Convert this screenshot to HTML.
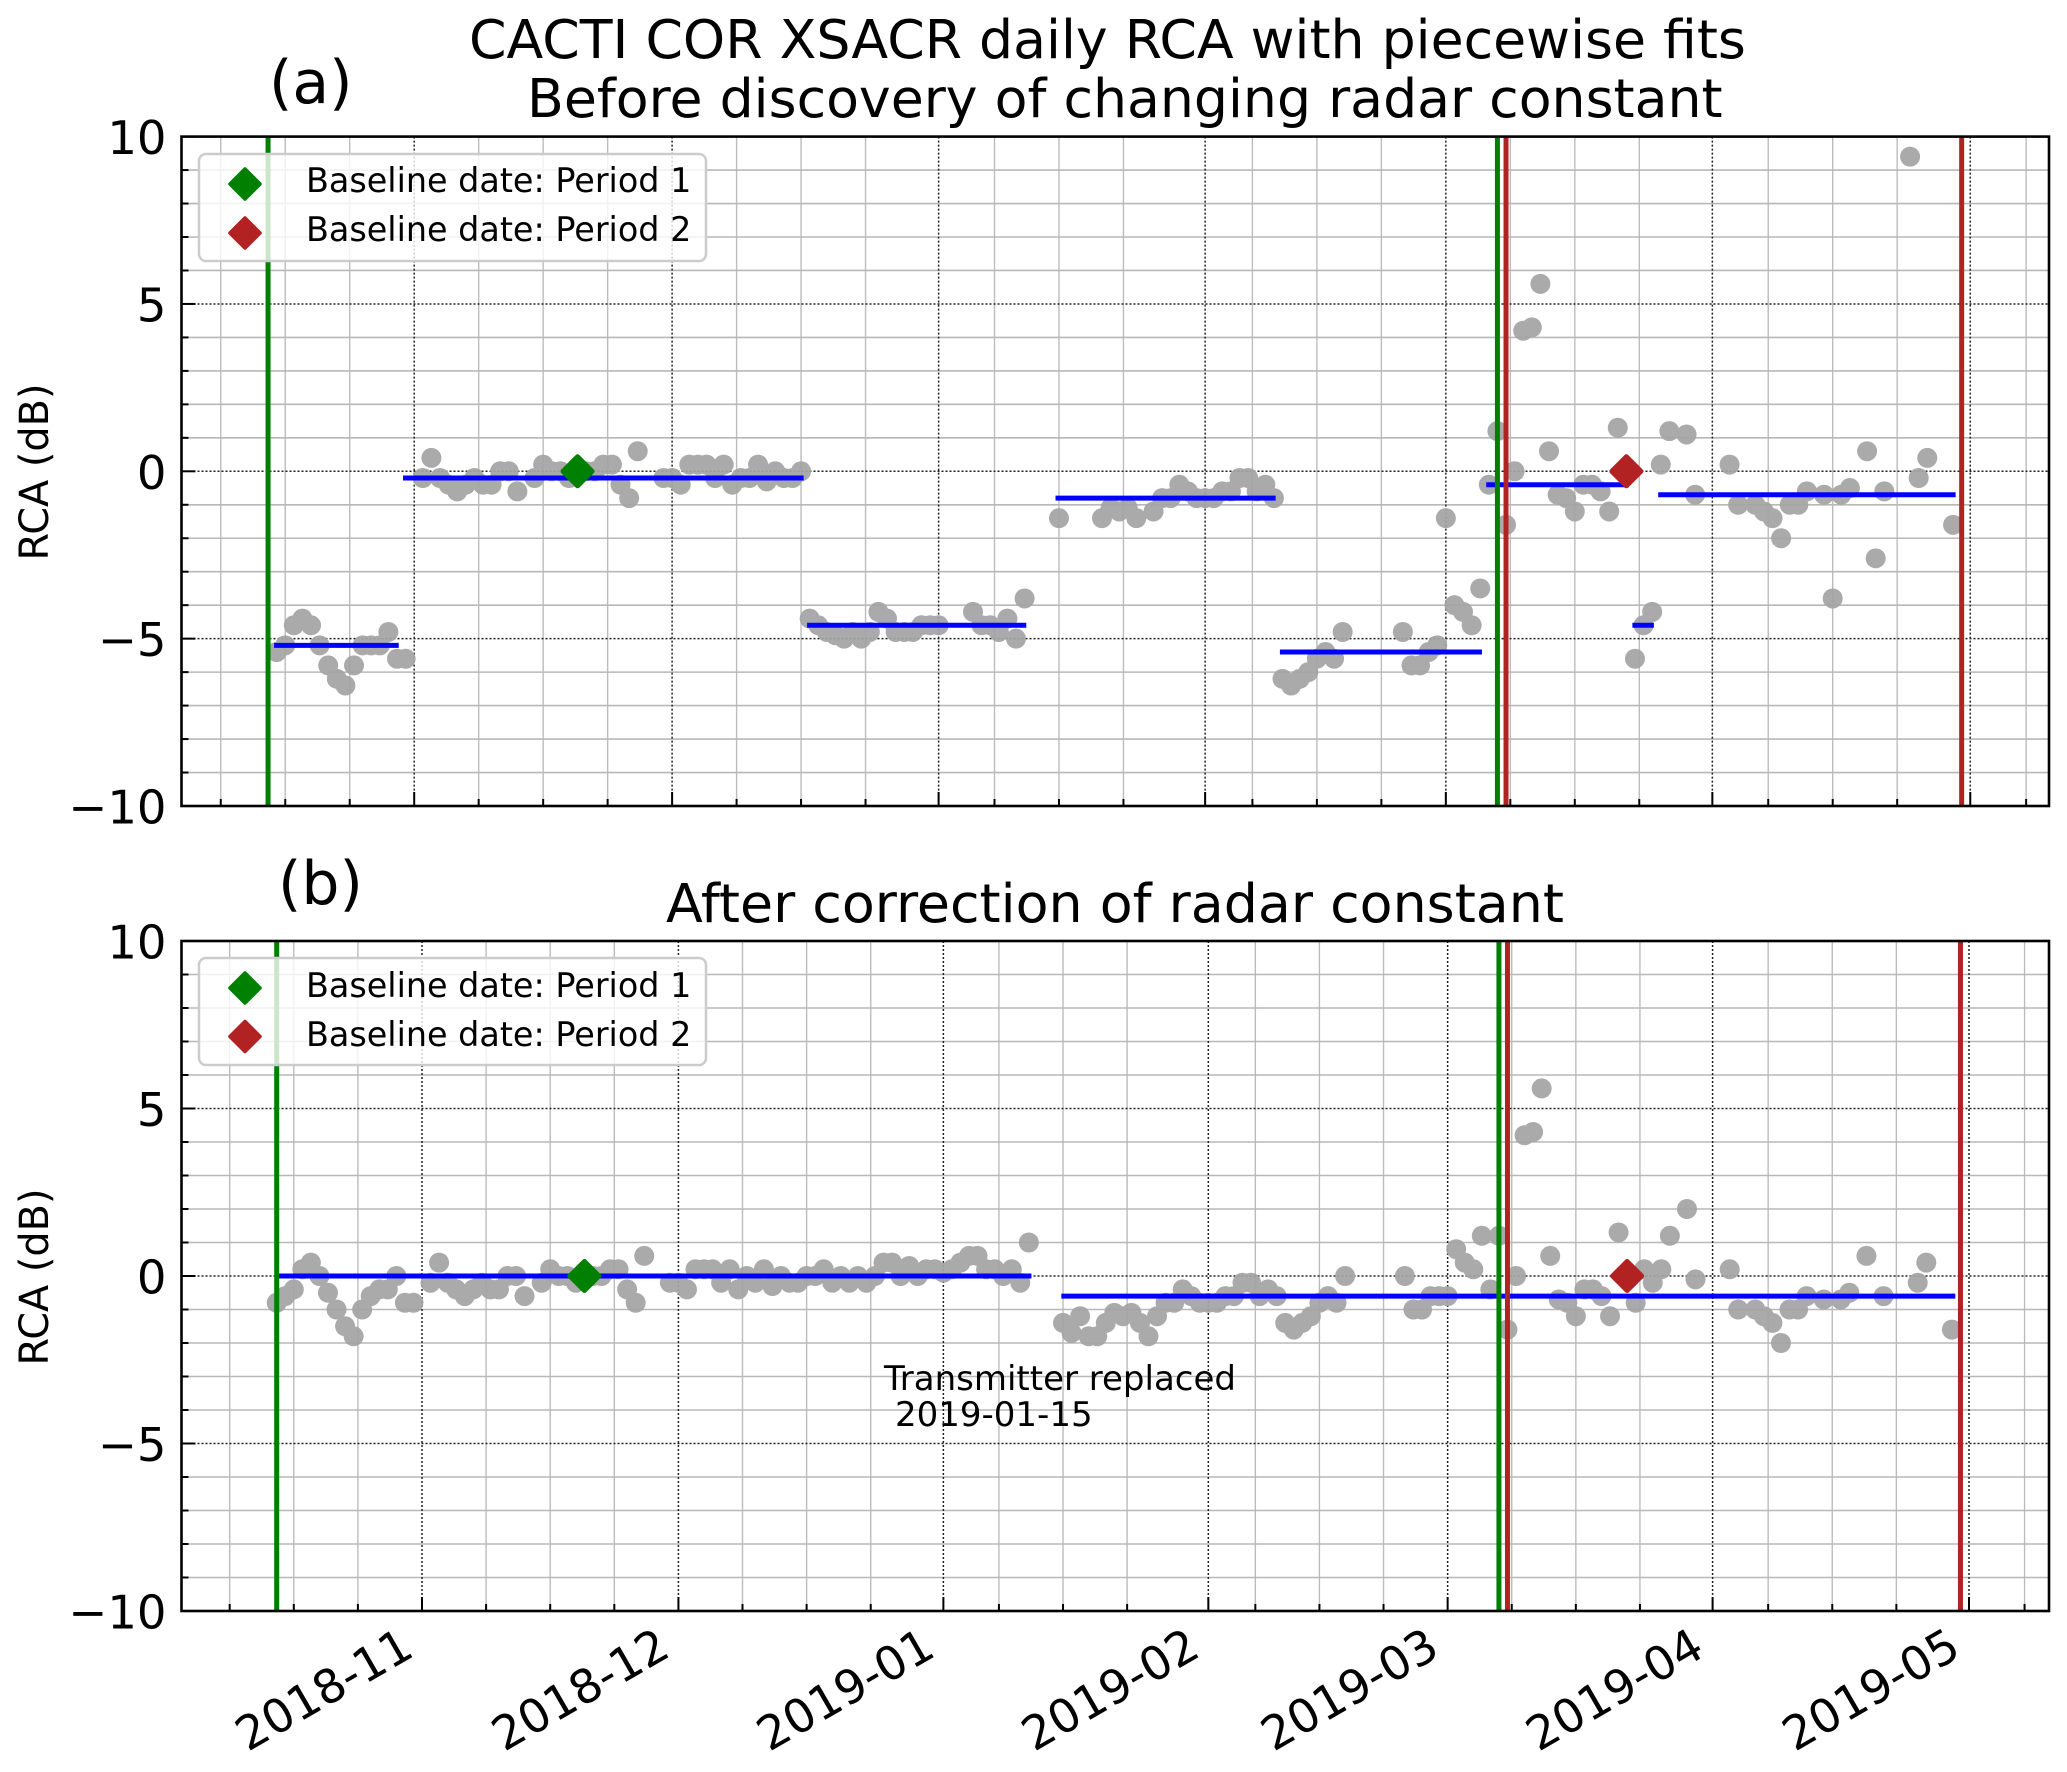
<!DOCTYPE html>
<html lang="en">
<head>
<meta charset="utf-8">
<title>CACTI COR XSACR daily RCA</title>
<style>
html,body{margin:0;padding:0;background:#fff;width:2067px;height:1772px;overflow:hidden}
svg{display:block}
text{font-family:"DejaVu Sans","Liberation Sans",sans-serif;fill:#000}
</style>
</head>
<body>
<svg id="figure" xmlns="http://www.w3.org/2000/svg" width="2067" height="1772" viewBox="0 0 2067 1772">
  <rect x="0" y="0" width="2067" height="1772" fill="#fff"/>
  <g id="panel-a"></g>
  <g id="panel-b"></g>

  <text x="469" y="58" font-size="53.7">CACTI COR XSACR daily RCA with piecewise fits</text>
  <text x="527" y="117" font-size="53.7">Before discovery of changing radar constant</text>
  <text x="269" y="103" font-size="60">(a)</text>
  <text x="278" y="904" font-size="60">(b)</text>
  <text x="666" y="922" font-size="53.8">After correction of radar constant</text>

  <text transform="translate(48,472) rotate(-90)" text-anchor="middle" font-size="39.8">RCA (dB)</text>
  <text transform="translate(48,1277) rotate(-90)" text-anchor="middle" font-size="39.8">RCA (dB)</text>

  <g>
    <rect x="199" y="154" width="507" height="107" rx="7" ry="7" fill="#fff" fill-opacity="0.8" stroke="#cccccc" stroke-width="2.5"/>
    <path d="M245 169L260 184L245 199L230 184Z" fill="#008000" stroke="#008000" stroke-width="3.6" stroke-linejoin="round"/>
    <path d="M245 218L260 233L245 248L230 233Z" fill="#b22222" stroke="#b22222" stroke-width="3.6" stroke-linejoin="round"/>
    <text x="306" y="192" font-size="33.4">Baseline date: Period 1</text>
    <text x="306" y="241" font-size="33.4">Baseline date: Period 2</text>
  </g>
  <g>
    <rect x="199" y="958" width="507" height="107" rx="7" ry="7" fill="#fff" fill-opacity="0.8" stroke="#cccccc" stroke-width="2.5"/>
    <path d="M245 973L260 988L245 1003L230 988Z" fill="#008000" stroke="#008000" stroke-width="3.6" stroke-linejoin="round"/>
    <path d="M245 1021.500L260 1036.500L245 1051.500L230 1036.500Z" fill="#b22222" stroke="#b22222" stroke-width="3.6" stroke-linejoin="round"/>
    <text x="306" y="997" font-size="33.4">Baseline date: Period 1</text>
    <text x="306" y="1046" font-size="33.4">Baseline date: Period 2</text>
  </g>

  <text x="884" y="1390" font-size="34">Transmitter replaced</text>
  <text x="895" y="1426" font-size="34">2019-01-15</text>
</svg>

<script>
// All day values are days since 2018-11-01.
const monthTickDays = [0, 30, 61, 92, 120, 151, 181];
const monthTickLabels = ['2018-11', '2018-12', '2019-01', '2019-02', '2019-03', '2019-04', '2019-05'];
const minorTickDays = [-22.5, -15, -7.5, 7.5, 15, 22.5, 37.5, 45, 52.5, 67.5, 75, 82.5, 97.5, 105, 112.5, 127.5, 135, 142.5, 157.5, 165, 172.5, 187.5];
const yMajorTicks = [-10, -5, 0, 5, 10];
const yMajorLabels = ['\u221210', '\u22125', '0', '5', '10'];
const yMinorTicks = [-9, -8, -7, -6, -4, -3, -2, -1, 1, 2, 3, 4, 6, 7, 8, 9];

const aDays = [-16,-15,-14,-13,-12,-11,-10,-9,-8,-7,-6,-5,-4,-3,-2,-1,
  1,2,3,4,5,6,7,8,9,10,11,12,14,15,16,17,18,19,20,21,22,23,24,25,26,29,30,31,32,33,34,35,36,37,38,39,40,41,42,43,44,45,
  46,47,48,49,50,51,52,53,54,55,56,57,58,59,60,61,65,66,67,68,69,70,71,
  75,80,81,82,83,84,86,87,88,89,90,91,92,93,94,95,96,97,98,99,100,
  101,102,103,104,105,106,107,108,115,116,117,118,119,120,121,122,123,124,125,126,127,128,129,130,131,132,133,134,135,136,137,138,139,140,141,142,143,144,145,146,148,149,
  153,154,156,157,158,159,160,161,162,164,165,166,167,169,170,171,174,175,176,179];
const aValues = [-5.4,-5.2,-4.6,-4.4,-4.6,-5.2,-5.8,-6.2,-6.4,-5.8,-5.2,-5.2,-5.2,-4.8,-5.6,-5.6,
  -0.2,0.4,-0.2,-0.4,-0.6,-0.4,-0.2,-0.4,-0.4,0,0,-0.6,-0.2,0.2,0,0,-0.2,0,0,0,0.2,0.2,-0.4,-0.8,0.6,-0.2,-0.2,-0.4,0.2,0.2,0.2,-0.2,0.2,-0.4,-0.2,-0.2,0.2,-0.3,0,-0.2,-0.2,0,
  -4.4,-4.6,-4.8,-4.9,-5,-4.8,-5,-4.8,-4.2,-4.4,-4.8,-4.8,-4.8,-4.6,-4.6,-4.6,-4.2,-4.6,-4.6,-4.8,-4.4,-5,-3.8,
  -1.4,-1.4,-1.1,-1.2,-1.1,-1.4,-1.2,-0.8,-0.8,-0.4,-0.6,-0.8,-0.8,-0.8,-0.6,-0.6,-0.2,-0.2,-0.6,-0.4,-0.8,
  -6.2,-6.4,-6.2,-6,-5.6,-5.4,-5.6,-4.8,-4.8,-5.8,-5.8,-5.4,-5.2,-1.4,-4,-4.2,-4.6,-3.5,-0.4,1.2,-1.6,0,4.2,4.3,5.6,0.6,-0.7,-0.8,-1.2,-0.4,-0.4,-0.6,-1.2,1.3,0,-5.6,-4.6,-4.2,0.2,1.2,1.1,-0.7,
  0.2,-1,-1,-1.2,-1.4,-2,-1,-1,-0.6,-0.7,-3.8,-0.7,-0.5,0.6,-2.6,-0.6,9.4,-0.2,0.4,-1.6];

const bDays = [-17,-16,-15,-14,-13,-12,-11,-10,-9,-8,-7,-6,-5,-4,-3,-2,-1,
  1,2,3,4,5,6,7,8,9,10,11,12,14,15,16,17,18,19,20,21,22,23,24,25,26,29,30,31,32,33,34,35,36,37,38,39,40,41,
  42,43,44,45,46,47,48,49,50,51,52,53,54,55,56,57,58,59,60,61,62,63,64,65,66,67,68,69,70,71,
  75,76,77,78,79,80,81,82,83,84,85,86,87,88,89,90,91,92,93,94,95,96,97,98,99,100,
  101,102,103,104,105,106,107,108,115,116,117,118,119,120,121,122,123,124,125,126,127,128,129,130,131,132,133,134,135,136,137,138,139,140,141,142,143,144,145,146,148,149,
  153,154,156,157,158,159,160,161,162,164,166,167,169,171,175,176,179];
const bValues = [-0.8,-0.6,-0.4,0.2,0.4,0,-0.5,-1,-1.5,-1.8,-1,-0.6,-0.4,-0.4,0,-0.8,-0.8,
  -0.2,0.4,-0.2,-0.4,-0.6,-0.4,-0.2,-0.4,-0.4,0,0,-0.6,-0.2,0.2,0,0,-0.2,0,0,0,0.2,0.2,-0.4,-0.8,0.6,-0.2,-0.2,-0.4,0.2,0.2,0.2,-0.2,0.2,-0.4,0,-0.2,0.2,-0.3,
  0,-0.2,-0.2,0,0,0.2,-0.2,0,-0.2,0,-0.2,0,0.4,0.4,0,0.3,0,0.2,0.2,0.1,0.2,0.4,0.6,0.6,0.2,0.2,0,0.2,-0.2,1,
  -1.4,-1.7,-1.2,-1.8,-1.8,-1.4,-1.1,-1.2,-1.1,-1.4,-1.8,-1.2,-0.8,-0.8,-0.4,-0.6,-0.8,-0.8,-0.8,-0.6,-0.6,-0.2,-0.2,-0.6,-0.4,-0.6,
  -1.4,-1.6,-1.4,-1.2,-0.8,-0.6,-0.8,0,0,-1,-1,-0.6,-0.6,-0.6,0.8,0.4,0.2,1.2,-0.4,1.2,-1.6,0,4.2,4.3,5.6,0.6,-0.7,-0.8,-1.2,-0.4,-0.4,-0.6,-1.2,1.3,0,-0.8,0.2,-0.2,0.2,1.2,2,-0.1,
  0.2,-1,-1,-1.2,-1.4,-2,-1,-1,-0.6,-0.7,-0.7,-0.5,0.6,-0.6,-0.2,0.4,-1.6];

const aFitStart = [-16.3, -1.3, 45.7, 74.6, 100.7, 124.7, 141.7, 144.7];
const aFitEnd = [-1.8, 45.3, 71.2, 100.2, 124.2, 141.3, 144.2, 179.3];
const aFitValue = [-5.2, -0.2, -4.6, -0.8, -5.4, -0.4, -4.6, -0.7];
const bFitStart = [-16.8, 74.8];
const bFitEnd = [71.3, 179.4];
const bFitValue = [0, -0.6];

const aBaselineDays = [19, 141];
const bBaselineDays = [19, 141];
const baselineValues = [0, 0];
const aGreenLineDays = [-17, 126];
const aRedLineDays = [127, 180];
const bGreenLineDays = [-17, 126];
const bRedLineDays = [127, 180];

const SVG_NS = 'http://www.w3.org/2000/svg';
const GREEN = '#008000';
const RED = '#b22222';
const BLUE = '#0000ff';

function line(parent, x1, y1, x2, y2, stroke, width, dash) {
  const el = document.createElementNS(SVG_NS, 'line');
  el.setAttribute('x1', x1);
  el.setAttribute('y1', y1);
  el.setAttribute('x2', x2);
  el.setAttribute('y2', y2);
  el.setAttribute('stroke', stroke);
  el.setAttribute('stroke-width', width);
  if (dash) el.setAttribute('stroke-dasharray', dash);
  parent.appendChild(el);
  return el;
}

function group(parent) {
  const el = document.createElementNS(SVG_NS, 'g');
  parent.appendChild(el);
  return el;
}

function drawPanel(root, cfg) {
  const L = 181.5, R = 2049, T = cfg.top, B = cfg.bottom;
  const xScale = d => cfg.x0 + cfg.pxPerDay * d;
  const yScale = v => (T + B) / 2 - v * (B - T) / 20;

  const minorGrid = group(root);
  
  
  minorTickDays.forEach(d => {
    const l = line(minorGrid, xScale(d), T, xScale(d), B, '#bcbcbc', 1.4);
    
    
  });
  yMinorTicks.forEach(v => {
    const l = line(minorGrid, L, yScale(v), R, yScale(v), '#b8b8b8', 1.6);
    
    
  });

  const majorGrid = group(root);
  
  
  monthTickDays.forEach(d => {
    const l = line(majorGrid, xScale(d), T, xScale(d), B, '#222', 1.5, '2 2');
    
    
  });
  yMajorTicks.forEach(v => {
    const l = line(majorGrid, L, yScale(v), R, yScale(v), '#222', 1.5, '2 2');
    
    
  });

  const dots = group(root);
  
  
  dots.setAttribute('opacity', '0.93');
  cfg.days.forEach((d, i) => {
    const c = document.createElementNS(SVG_NS, 'circle');
    c.setAttribute('cx', xScale(d));
    c.setAttribute('cy', yScale(cfg.values[i]));
    c.setAttribute('r', 10);
    c.setAttribute('fill', '#a4a4a4');
    
    
    dots.appendChild(c);
  });

  const fits = group(root);
  
  
  cfg.fitStart.forEach((s, i) => {
    const l = line(fits, xScale(s), yScale(cfg.fitValue[i]), xScale(cfg.fitEnd[i]), yScale(cfg.fitValue[i]), BLUE, 5);
    
    
  });

  const vlines = group(root);
  
  
  cfg.green.forEach(d => {
    const l = line(vlines, xScale(d), T, xScale(d), B, GREEN, 5);
    
    
  });
  cfg.red.forEach(d => {
    const l = line(vlines, xScale(d), T, xScale(d), B, RED, 5);
    
    
  });

  const colors = [GREEN, RED];
  cfg.baseline.forEach((d, i) => {
    const cx = xScale(d), cy = yScale(baselineValues[i]), s = 14.5;
    const p = document.createElementNS(SVG_NS, 'path');
    p.setAttribute('d', 'M' + cx + ' ' + (cy - s) + 'L' + (cx + s) + ' ' + cy + 'L' + cx + ' ' + (cy + s) + 'L' + (cx - s) + ' ' + cy + 'Z');
    p.setAttribute('fill', colors[i]);
    p.setAttribute('stroke', colors[i]);
    p.setAttribute('stroke-width', 5);
    p.setAttribute('stroke-linejoin', 'round');
    
    
    root.appendChild(p);
  });

  const ticks = group(root);
  
  
  minorTickDays.forEach(d => {
    const l = line(ticks, xScale(d), B, xScale(d), B - 7, '#000', 2);
    
    
  });
  monthTickDays.forEach(d => {
    const l = line(ticks, xScale(d), B, xScale(d), B - 14, '#000', 2);
    
    
  });
  yMinorTicks.forEach(v => {
    const l = line(ticks, L, yScale(v), L + 7, yScale(v), '#000', 2);
    
    
  });
  yMajorTicks.forEach((v, i) => {
    const l = line(ticks, L, yScale(v), L + 14, yScale(v), '#000', 2);
    
    
    const t = document.createElementNS(SVG_NS, 'text');
    t.setAttribute('x', L - 15);
    t.setAttribute('y', yScale(v) + 17.5);
    t.setAttribute('text-anchor', 'end');
    t.setAttribute('font-size', '46.5');
    
    
    t.textContent = yMajorLabels[i];
    root.appendChild(t);
  });

  if (cfg.showXLabels) {
    monthTickDays.forEach((d, i) => {
      const t = document.createElementNS(SVG_NS, 'text');
      const px = xScale(d) - 6, py = B + 44;
      t.setAttribute('transform', 'translate(' + px + ',' + py + ') rotate(-30)');
      t.setAttribute('text-anchor', 'end');
      t.setAttribute('font-size', '46.5');
      
      
      t.textContent = monthTickLabels[i];
      root.appendChild(t);
    });
  }

  const frame = document.createElementNS(SVG_NS, 'rect');
  frame.setAttribute('x', L);
  frame.setAttribute('y', T);
  frame.setAttribute('width', R - L);
  frame.setAttribute('height', B - T);
  frame.setAttribute('fill', 'none');
  frame.setAttribute('stroke', '#000');
  frame.setAttribute('stroke-width', 2.6);
  
  
  root.appendChild(frame);
}

drawPanel(document.getElementById('panel-a'), {
  top: 136.6, bottom: 806, x0: 414.2, pxPerDay: 8.597,
  days: aDays, values: aValues,
  fitStart: aFitStart, fitEnd: aFitEnd, fitValue: aFitValue,
  green: aGreenLineDays, red: aRedLineDays, baseline: aBaselineDays,
  showXLabels: false
});
drawPanel(document.getElementById('panel-b'), {
  top: 941, bottom: 1611, x0: 422, pxPerDay: 8.547,
  days: bDays, values: bValues,
  fitStart: bFitStart, fitEnd: bFitEnd, fitValue: bFitValue,
  green: bGreenLineDays, red: bRedLineDays, baseline: bBaselineDays,
  showXLabels: true
});
</script>
</body>
</html>
